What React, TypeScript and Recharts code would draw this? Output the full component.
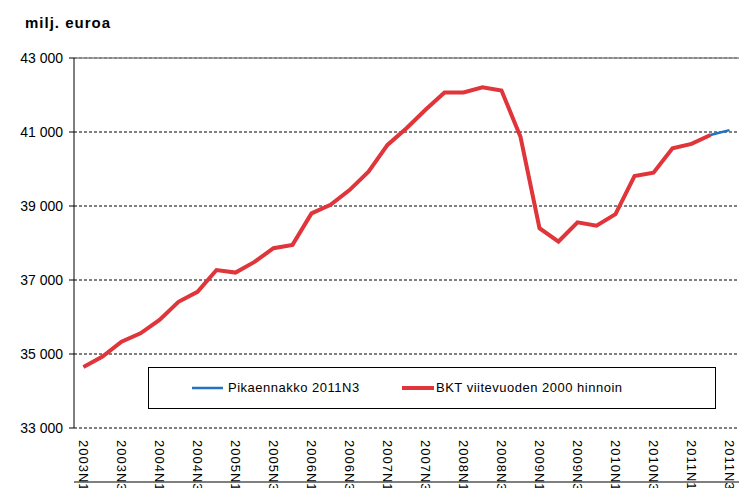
import React from 'react';
import { LineChart, Line, XAxis, YAxis, CartesianGrid, ReferenceLine } from 'recharts';

const quarters = [
  '2003N1', '2003N2', '2003N3', '2003N4',
  '2004N1', '2004N2', '2004N3', '2004N4',
  '2005N1', '2005N2', '2005N3', '2005N4',
  '2006N1', '2006N2', '2006N3', '2006N4',
  '2007N1', '2007N2', '2007N3', '2007N4',
  '2008N1', '2008N2', '2008N3', '2008N4',
  '2009N1', '2009N2', '2009N3', '2009N4',
  '2010N1', '2010N2', '2010N3', '2010N4',
  '2011N1', '2011N2', '2011N3',
];

// BKT viitevuoden 2000 hinnoin (milj. euroa)
const bkt = [
  34650, 34930, 35330, 35560, 35920, 36410, 36680, 37270, 37200, 37490, 37860, 37950,
  38800, 39030, 39430, 39930, 40650, 41100, 41600, 42070, 42070, 42210, 42120, 40870,
  38400, 38040, 38560, 38470, 38780, 39810, 39900, 40560, 40680, 40920, null,
];

// Pikaennakko 2011N3
const pika = [
  34650, 34930, 35330, 35560, 35920, 36410, 36680, 37270, 37200, 37490, 37860, 37950,
  38800, 39030, 39430, 39930, 40650, 41100, 41600, 42070, 42070, 42210, 42120, 40870,
  38400, 38040, 38560, 38470, 38780, 39810, 39900, 40560, 40680, 40920, 41050,
];

const yTicks = [33000, 35000, 37000, 39000, 41000, 43000];

const data = quarters.map((q, i) => ({ idx: i, q, bkt: bkt[i], pika: pika[i] }));
const boundaries = quarters.map((_, i) => i - 0.5).concat([quarters.length - 0.5]);
const labelTicks = quarters.map((_, i) => i).filter(i => i % 2 === 0);

const FONT = '"Liberation Sans", Arial, sans-serif';
const RED = '#e0353a';
const BLUE = '#2372c4';

const fmt = (v: number) => String(v).replace(/\B(?=(\d{3})+(?!\d))/g, ' ');

function QuarterTick(props: any) {
  const { x, y, payload } = props;
  return (
    <text
      transform={`translate(${x},${y}) rotate(90)`}
      textAnchor="start"
      dominantBaseline="central"
      fontSize={13}
      letterSpacing={1}
      fontFamily={FONT}
      fill="#000"
    >
      {quarters[payload.value]}
    </text>
  );
}

export default function App() {
  return (
    <div style={{ position: 'absolute', left: 0, top: 0, width: 740, height: 488, background: '#fff', fontFamily: FONT }}>
      <div style={{ position: 'absolute', left: 25, top: 14, fontSize: 15, fontWeight: 'bold', letterSpacing: 1 }}>
        milj. euroa
      </div>
      <LineChart width={740} height={488} data={data} margin={{ top: 58, right: 1, left: 0, bottom: 0 }}>
        <CartesianGrid vertical={false} stroke="#000" strokeDasharray="3 2" />
        <ReferenceLine y={43000} stroke="#888" strokeWidth={1.5} />
        <XAxis
          xAxisId="marks"
          dataKey="idx"
          type="number"
          domain={[-0.5, quarters.length - 0.5]}
          ticks={boundaries}
          allowDataOverflow
          tick={false}
          tickSize={5}
          height={6}
          stroke="#000"
          axisLine={{ stroke: '#000' }}
          tickLine={{ stroke: '#000' }}
        />
        <XAxis
          xAxisId="labels"
          dataKey="idx"
          type="number"
          domain={[-0.5, quarters.length - 0.5]}
          ticks={labelTicks}
          allowDataOverflow
          axisLine={false}
          tickLine={false}
          tickMargin={6}
          interval={0}
          height={54}
          tick={<QuarterTick />}
        />
        <YAxis
          domain={[33000, 43000]}
          ticks={yTicks}
          width={74}
          tickSize={5}
          tickMargin={6}
          tickFormatter={fmt}
          axisLine={{ stroke: '#000' }}
          tickLine={{ stroke: '#000' }}
          tick={{ fill: '#000', fontSize: 14, fontFamily: FONT }}
        />
        <Line
          xAxisId="marks"
          dataKey="pika"
          name="Pikaennakko 2011N3"
          stroke={BLUE}
          strokeWidth={2.5}
          dot={false}
          isAnimationActive={false}
        />
        <Line
          xAxisId="marks"
          dataKey="bkt"
          name="BKT viitevuoden 2000 hinnoin"
          stroke={RED}
          strokeWidth={4}
          dot={false}
          isAnimationActive={false}
        />
      </LineChart>
      <div
        style={{
          position: 'absolute', left: 148, top: 367, width: 566, height: 40,
          border: '1px solid #000', background: '#fff', fontSize: 13, letterSpacing: 0.5,
        }}
      >
        <div style={{ position: 'absolute', left: 43, top: 12, display: 'flex', alignItems: 'center' }}>
          <svg width={31} height={6}><line x1={0} y1={3} x2={31} y2={3} stroke={BLUE} strokeWidth={2.5} /></svg>
          <span style={{ marginLeft: 5 }}>Pikaennakko 2011N3</span>
        </div>
        <div style={{ position: 'absolute', left: 253, top: 12, display: 'flex', alignItems: 'center' }}>
          <svg width={32} height={6}><line x1={0} y1={3} x2={32} y2={3} stroke={RED} strokeWidth={4} /></svg>
          <span style={{ marginLeft: 2 }}>BKT viitevuoden 2000 hinnoin</span>
        </div>
      </div>
    </div>
  );
}
